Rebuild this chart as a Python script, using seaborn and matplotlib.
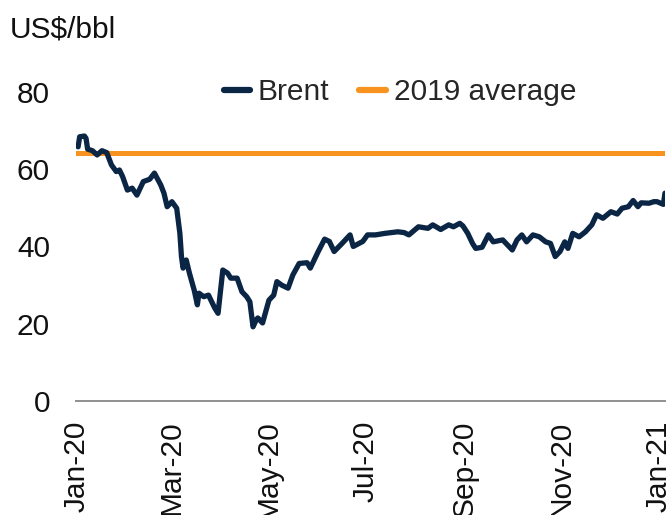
import matplotlib
matplotlib.use("Agg")
import matplotlib.pyplot as plt
import seaborn as sns
import pandas as pd

# ---- data ----
brent_dates = [
    "2020-01-02", "2020-01-03", "2020-01-06", "2020-01-07", "2020-01-08", "2020-01-11",
    "2020-01-14", "2020-01-17", "2020-01-20", "2020-01-23", "2020-01-26", "2020-01-28",
    "2020-01-30", "2020-02-02", "2020-02-05", "2020-02-08", "2020-02-12", "2020-02-16",
    "2020-02-19", "2020-02-23", "2020-02-25", "2020-02-27", "2020-03-01", "2020-03-04",
    "2020-03-06", "2020-03-07", "2020-03-08", "2020-03-10", "2020-03-12", "2020-03-15",
    "2020-03-17", "2020-03-18", "2020-03-21", "2020-03-24", "2020-03-28", "2020-03-30",
    "2020-04-02", "2020-04-05", "2020-04-07", "2020-04-11", "2020-04-14", "2020-04-17",
    "2020-04-19", "2020-04-21", "2020-04-23", "2020-04-24", "2020-04-27", "2020-05-01",
    "2020-05-04", "2020-05-06", "2020-05-09", "2020-05-13", "2020-05-16", "2020-05-20",
    "2020-05-25", "2020-05-27", "2020-06-01", "2020-06-05", "2020-06-08", "2020-06-11",
    "2020-06-16", "2020-06-21", "2020-06-23", "2020-06-29", "2020-07-02", "2020-07-07",
    "2020-07-13", "2020-07-21", "2020-07-25", "2020-07-28", "2020-08-03", "2020-08-09",
    "2020-08-12", "2020-08-17", "2020-08-22", "2020-08-25", "2020-08-29", "2020-08-31",
    "2020-09-03", "2020-09-06", "2020-09-08", "2020-09-12", "2020-09-16", "2020-09-19",
    "2020-09-25", "2020-10-01", "2020-10-04", "2020-10-07", "2020-10-10", "2020-10-14",
    "2020-10-18", "2020-10-22", "2020-10-25", "2020-10-28", "2020-10-31", "2020-11-03",
    "2020-11-05", "2020-11-08", "2020-11-12", "2020-11-16", "2020-11-20", "2020-11-23",
    "2020-11-27", "2020-12-02", "2020-12-06", "2020-12-09", "2020-12-13", "2020-12-16",
    "2020-12-19", "2020-12-21", "2020-12-26", "2020-12-29", "2020-12-31", "2021-01-04",
    "2021-01-05",
]
brent_values = [
    65.8, 68.4, 68.6, 68.0, 65.2, 64.8,
    63.7, 64.8, 64.3, 61.1, 59.4, 59.8,
    58.1, 54.6, 55.1, 53.3, 56.8, 57.4,
    59.0, 55.9, 53.8, 50.3, 51.6, 49.9,
    43.4, 37.4, 34.4, 36.5, 33.1, 28.7,
    24.9, 27.9, 27.0, 27.4, 24.0, 22.7,
    33.9, 33.1, 31.8, 31.8, 28.3, 27.0,
    25.7, 19.2, 21.0, 21.5, 20.2, 26.1,
    27.4, 30.9, 30.0, 29.2, 32.6, 35.6,
    35.8, 34.4, 38.7, 41.9, 41.3, 38.7,
    40.8, 43.0, 40.0, 41.3, 43.0, 43.0,
    43.4, 43.8, 43.6, 43.0, 45.1, 44.7,
    45.6, 44.4, 45.6, 45.1, 46.0, 45.3,
    43.4, 40.8, 39.5, 39.8, 43.0, 41.2,
    41.7, 39.1, 41.7, 43.0, 41.2, 43.0,
    42.5, 41.2, 40.8, 37.4, 38.7, 41.2,
    39.5, 43.4, 42.5, 43.8, 45.6, 48.2,
    47.3, 49.0, 48.4, 49.9, 50.3, 51.9,
    50.3, 51.3, 51.2, 51.6, 51.6, 50.9,
    53.8,
]
avg_2019 = 64.2
series_names = ["Brent", "2019 average"]
y_ticks = [0, 20, 40, 60, 80]
x_tick_dates = ["2020-01-01", "2020-03-01", "2020-05-01", "2020-07-01",
                "2020-09-01", "2020-11-01", "2021-01-01"]
unit_label = "US$/bbl"

# ---- styling ----
sns.set_theme(style="white")
plt.rcParams["font.family"] = ["Liberation Sans", "DejaVu Sans"]

NAVY = "#0b2545"
ORANGE = "#f7931e"
FS = 21.5

df = pd.DataFrame({"date": pd.to_datetime(brent_dates), "value": brent_values})

fig = plt.figure(figsize=(6.71, 5.15), dpi=100)
ax = fig.add_axes([0.114, 0.2214, 0.877, 0.600])

sns.lineplot(data=df, x="date", y="value", ax=ax, color=NAVY, linewidth=3.8,
             label=series_names[0], zorder=3)
ax.axhline(avg_2019, color=ORANGE, linewidth=3.6, label=series_names[1], zorder=2)

ax.set_ylim(0, 80)
ax.set_xlim(pd.Timestamp("2020-01-01"), pd.Timestamp("2021-01-05"))
ax.set_yticks(y_ticks)
ax.set_yticklabels([str(v) for v in y_ticks], fontsize=FS, color="#111111")
xt = pd.to_datetime(x_tick_dates)
ax.set_xticks(xt)
ax.set_xticklabels([d.strftime("%b-%y") for d in xt], rotation=90, fontsize=FS,
                   color="#111111")
ax.tick_params(axis="y", length=0, pad=19)
ax.tick_params(axis="x", length=0, pad=14)
ax.set_xlabel("")
ax.set_ylabel("")

for s in ["left", "right", "top"]:
    ax.spines[s].set_visible(False)
ax.spines["bottom"].set_color("#8f8f8f")
ax.spines["bottom"].set_linewidth(1.4)
ax.grid(False)

leg = ax.legend(loc="center", bbox_to_anchor=(0.596, 0.821),
                bbox_transform=fig.transFigure, ncol=2, frameon=False,
                fontsize=FS, handlelength=0.9, handletextpad=0.25,
                columnspacing=1.0, borderpad=0)
for h in leg.get_lines():
    h.set_linewidth(4.5)
    h.set_solid_capstyle("round")

fig.text(10 / 671, 1 - 30 / 515, unit_label, fontsize=FS, color="#111111",
         ha="left", va="center")

fig.savefig("out.png", dpi=100)
